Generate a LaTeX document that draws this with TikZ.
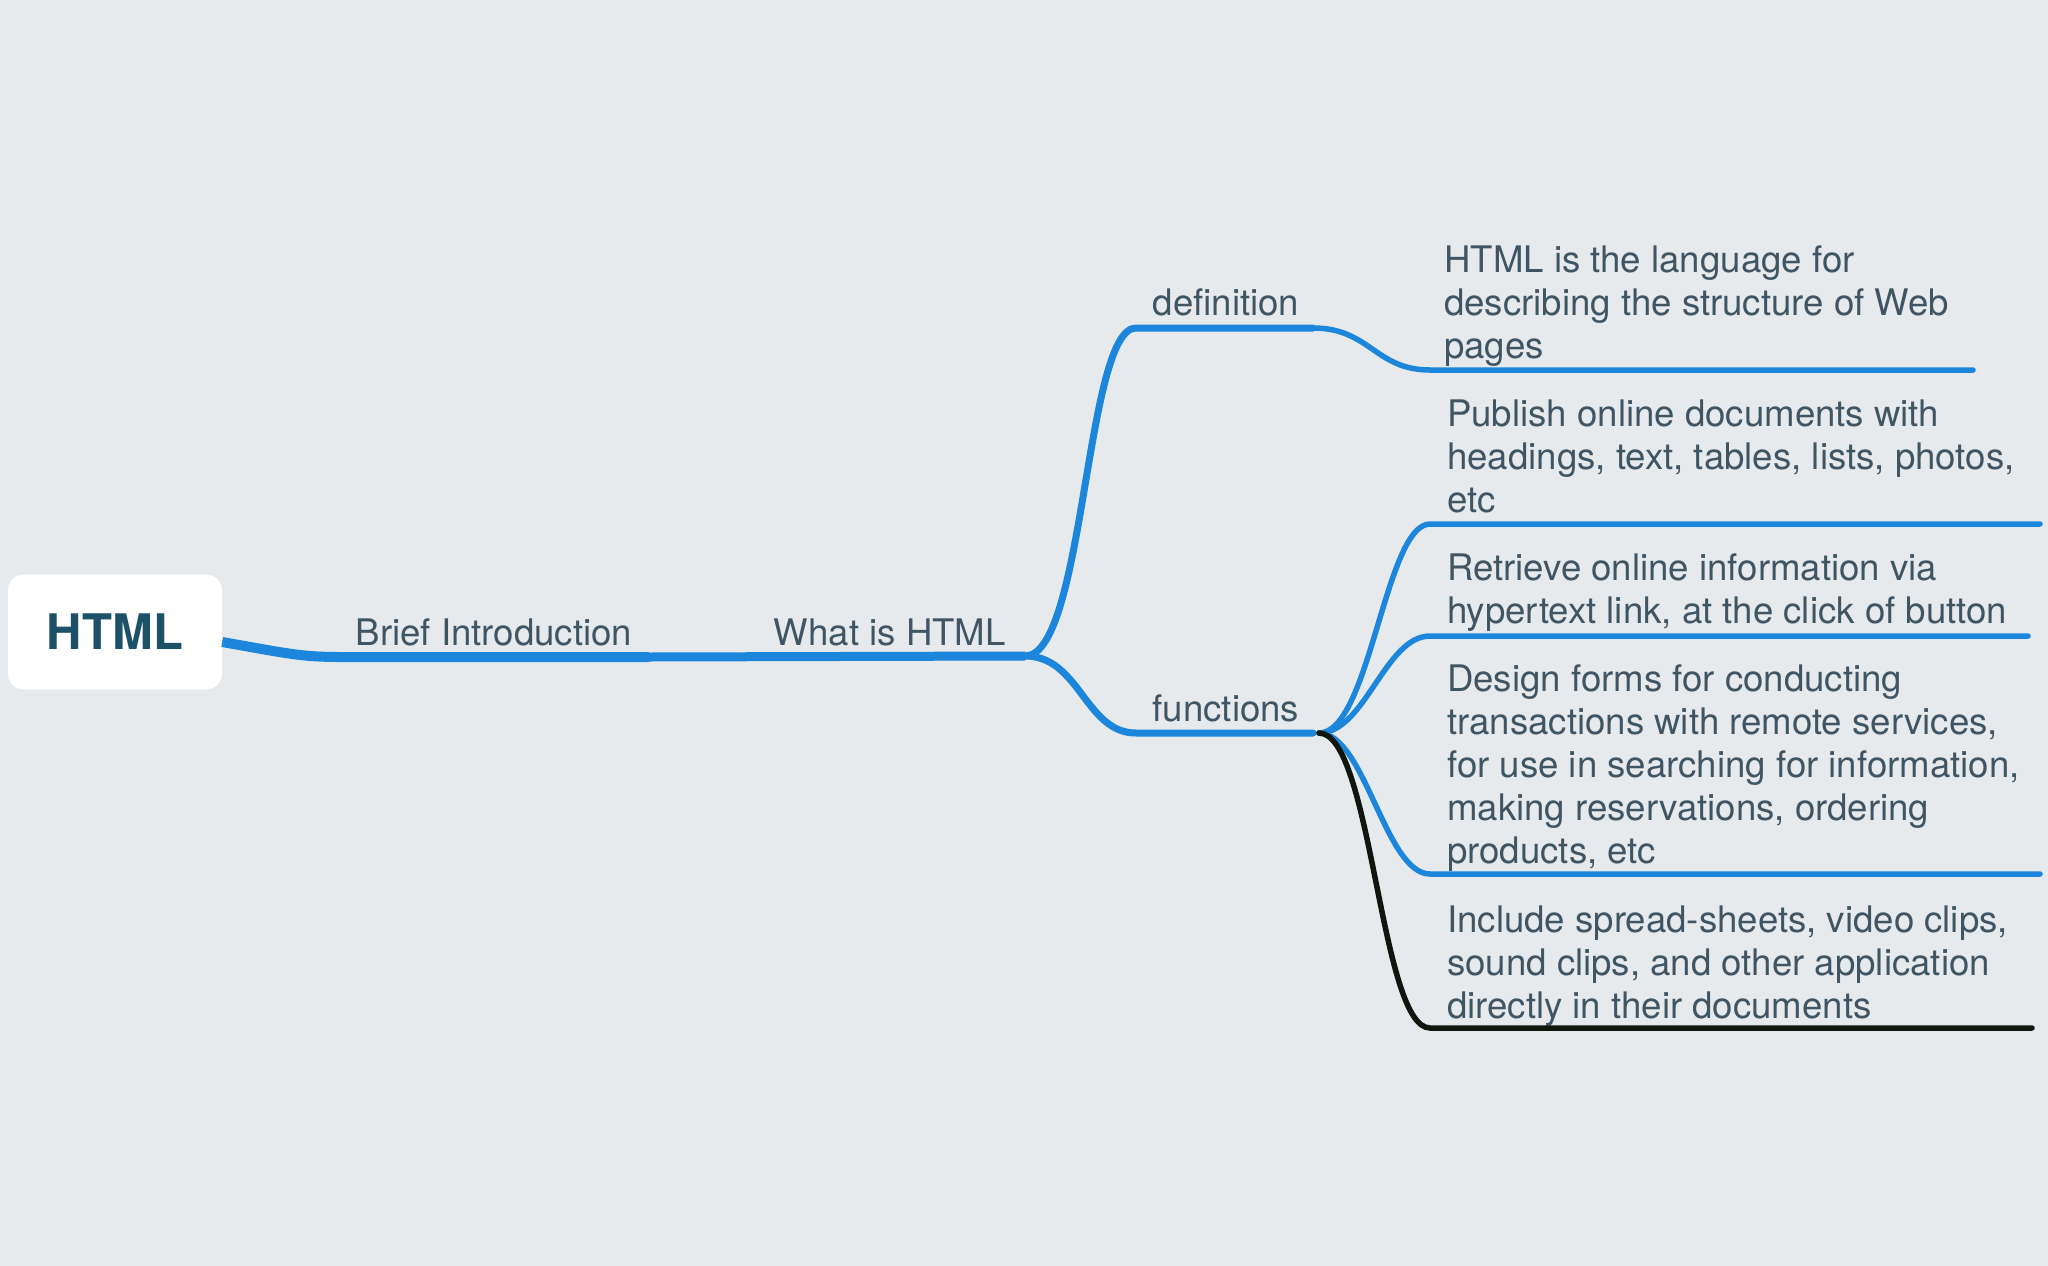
\documentclass[tikz,border=0pt]{standalone}
\usepackage{fontspec}
\setmainfont{TeX Gyre Heros}
\usepackage{xcolor}
\usepackage{tikz}
\usetikzlibrary{positioning}

\definecolor{bgcol}{RGB}{230,234,237}
\definecolor{branchblue}{RGB}{27,134,219}
\definecolor{labelgray}{RGB}{64,85,100}
\definecolor{rootteal}{RGB}{28,81,104}
\definecolor{leafblack}{RGB}{14,22,14}

\begin{document}
\begin{tikzpicture}[
    x=1pt, y=-1pt,
    root/.style={rectangle, rounded corners=16pt, fill=white, minimum width=214pt, minimum height=115pt,
        inner sep=0pt, text=rootteal, font=\fontsize{49}{56}\selectfont\bfseries},
    topic/.style={inner sep=0pt, text=labelgray, font=\fontsize{36.6}{43}\selectfont},
    leaf/.style={inner sep=0pt, text=labelgray, align=left, anchor=base west, font=\fontsize{36.6}{43}\selectfont},
    trunk/.style={draw=branchblue, line width=10pt, line cap=round},
    branch/.style={draw=branchblue, line width=7pt, line cap=round},
    twig/.style={draw=branchblue, line width=5.5pt, line cap=round},
    lasttwig/.style={twig, draw=leafblack}
]

    % Background
    \fill[bgcol] (0,0) rectangle (2048,1266);
    \useasboundingbox (0,0) rectangle (2048,1266);

    % Root
    \node[root] (HTML) at (115,632) {HTML};

    % Junction points
    \coordinate (BriefS)  at (340,657);
    \coordinate (BriefE)  at (649,657);
    \coordinate (WhatE)   at (1025,656);
    \coordinate (DefS)    at (1136,328);
    \coordinate (DefE)    at (1313,328);
    \coordinate (FuncS)   at (1136,733);
    \coordinate (FuncE)   at (1313,733);
    \coordinate (FuncJ)   at (1319,733);

    % Topics
    \node[topic, anchor=base]      (Brief) at (494,645)  {Brief Introduction};
    \node[topic, anchor=base east] (What)  at (1006,645) {What is HTML};
    \node[topic, anchor=base]      (Def)   at (1226,315) {definition};
    \node[topic, anchor=base]      (Func)  at (1226,721) {functions};

    % Leaves (anchored at the baseline of their last line)
    \node[leaf] (DefText) at (1444,358) {HTML is the language for\\describing the structure of Web\\pages};
    \node[leaf] (Publish) at (1447,512) {Publish online documents with\\headings, text, tables, lists, photos,\\etc};
    \node[leaf] (Retrieve) at (1447,623) {Retrieve online information via\\hypertext link, at the click of button};
    \node[leaf] (Design) at (1447,863) {Design forms for conducting\\transactions with remote services,\\for use in searching for information,\\making reservations, ordering\\products, etc};
    \node[leaf] (Include) at (1447,1018) {Include spread-sheets, video clips,\\sound clips, and other application\\directly in their documents};

    \coordinate (DefLeafS)  at (1430,370);
    \coordinate (DefLeafE)  at (1973,370);
    \coordinate (PubS)      at (1430,524);
    \coordinate (PubE)      at (2040,524);
    \coordinate (RetS)      at (1430,636);
    \coordinate (RetE)      at (2028,636);
    \coordinate (DesS)      at (1430,874);
    \coordinate (DesE)      at (2040,874);
    \coordinate (IncS)      at (1430,1028);
    \coordinate (IncE)      at (2032,1028);

    % Edges
    \draw[trunk, line cap=butt] ([yshift=-10pt]HTML.east) .. controls (285,653) and (300,657) .. (BriefS) -- (BriefE);
    \draw[draw=branchblue, line width=9pt] (BriefE) -- (WhatE);

    \draw[branch] (WhatE) .. controls (1085,656) and (1085,328) .. (DefS) -- (DefE);
    \draw[branch] (WhatE) .. controls (1080,656) and (1085,733) .. (FuncS) -- (FuncE);

    \draw[twig] (DefE) .. controls (1370,328) and (1375,370) .. (DefLeafS) -- (DefLeafE);
    \draw[twig] (FuncJ) .. controls (1370,733) and (1385,524) .. (PubS) -- (PubE);
    \draw[twig] (FuncJ) .. controls (1365,733) and (1385,636) .. (RetS) -- (RetE);
    \draw[twig] (FuncJ) .. controls (1365,733) and (1385,874) .. (DesS) -- (DesE);
    \draw[lasttwig] (FuncJ) .. controls (1372,733) and (1380,1028) .. (IncS) -- (IncE);

\end{tikzpicture}
\end{document}
